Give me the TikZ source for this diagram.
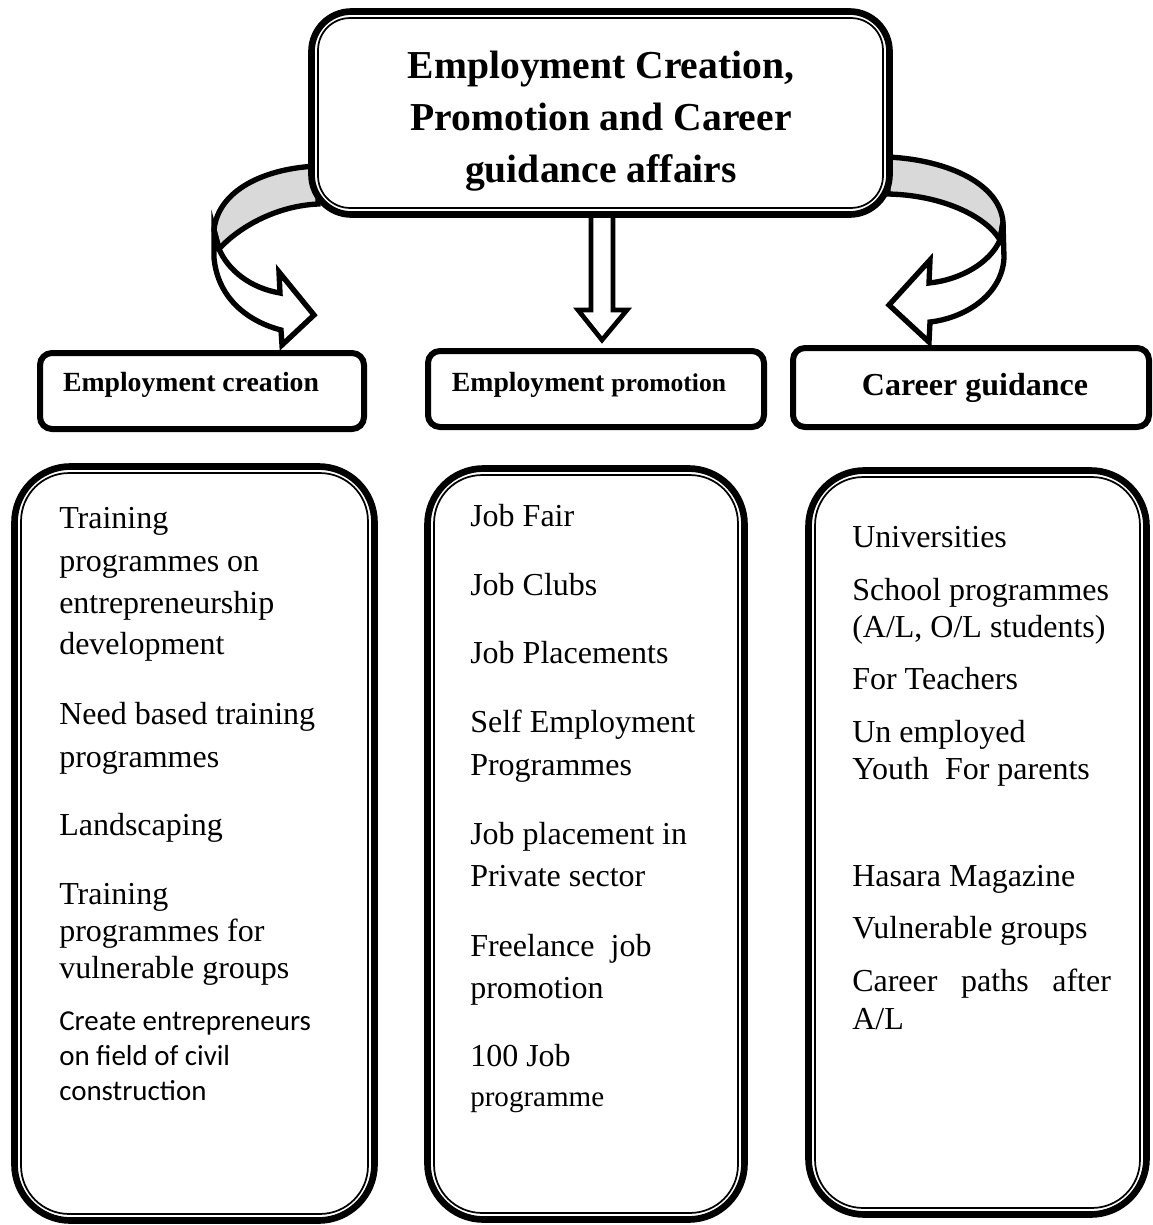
\documentclass[tikz,border=0pt]{standalone}
\usepackage{fontspec}
\setmainfont{Liberation Serif}
\newfontfamily\calibrifont{Carlito}

\begin{document}
\begin{tikzpicture}[x=0.75pt,y=-0.75pt,
	bigbox/.style={draw,line width=5pt,rounded corners=42pt,fill=white,inner sep=0pt},
	innerline/.style={line width=1.3pt,rounded corners=36pt},
	headbox/.style={draw,line width=4.5pt,rounded corners=9pt,fill=white,inner sep=0pt},
	headtext/.style={inner sep=0pt,font=\bfseries},
	blockarrow/.style={draw,line width=4pt,line join=miter,fill=white},
	band/.style={draw,line width=4pt,fill=gray!30},
	item/.style={anchor=west,inner sep=0pt,font=\fontsize{24}{30}\selectfont,text height=16.4pt,text depth=5.3pt},
	smallitem/.style={anchor=west,inner sep=0pt,font=\calibrifont\fontsize{21.7}{26}\selectfont,text height=14.8pt,text depth=4.8pt}]
	\useasboundingbox (0,0) rectangle (1153,1225);
	\draw[band] (318,166) .. controls (265,168) and (218,190) .. (214,230) -- (219,249) .. controls (238,228) and (275,206) .. (318,204) -- cycle;
	\draw[blockarrow] (214,230) -- (214,258) .. controls (218,300) and (250,322) .. (281,330) -- (282,345) -- (314,315) -- (279,272) -- (280,293) .. controls (250,288) and (228,270) .. (219,249) -- cycle;
	\draw[band] (888,157) .. controls (950,160) and (1000,185) .. (1003,222) -- (1000,240) .. controls (985,215) and (940,195) .. (888,194) -- cycle;
	\draw[blockarrow] (1003,222) -- (1004,258) .. controls (1002,295) and (965,318) .. (930,322) -- (929,342) -- (889,305) -- (930,260) -- (929,283) .. controls (960,280) and (990,263) .. (1000,240) -- cycle;
	\draw[blockarrow,line width=3.5pt] (591,212) -- (591,310) -- (578,310) -- (602,340) -- (627,310) -- (613,310) -- (613,212);
	\node[bigbox,rounded corners=30pt,minimum width=433.5pt,minimum height=152.25pt] (main) at (600.5,113) {};
	\draw[innerline,rounded corners=24pt] ([shift={(7.4pt,-7.4pt)}]main.north west) rectangle ([shift={(-7.4pt,7.4pt)}]main.south east);
	\node[align=center,inner sep=0pt,font=\fontsize{29.7}{39}\selectfont\bfseries] (maintitle) at (601,121) {Employment Creation,\\Promotion and Career\\guidance affairs};
	\node[headbox,minimum width=243pt,minimum height=57pt] (creahead) at (202,391) {};
	\node[headtext,font=\fontsize{20.8}{24}\selectfont\bfseries] (creatitle) at (191,385) {Employment creation};
	\node[headbox,minimum width=252pt,minimum height=57pt] (promohead) at (596,389) {};
	\node[headtext,font=\fontsize{20.8}{24}\selectfont\bfseries] (promotitle) at (589,385) {Employment {\fontsize{19.2}{24}\selectfont promotion}};
	\node[headbox,minimum width=267pt,minimum height=59.25pt] (guidehead) at (971,387.5) {};
	\node[headtext,font=\fontsize{24}{28}\selectfont\bfseries] (guidetitle) at (975,388) {Career guidance};
	\node[bigbox,minimum width=270pt,minimum height=565.5pt] (creabody) at (194.5,843.5) {};
	\draw[innerline] ([shift={(7.4pt,-7.4pt)}]creabody.north west) rectangle ([shift={(-7.4pt,7.4pt)}]creabody.south east);
	\node[bigbox,minimum width=237.75pt,minimum height=563.25pt] (promobody) at (586,844) {};
	\draw[innerline] ([shift={(7.4pt,-7.4pt)}]promobody.north west) rectangle ([shift={(-7.4pt,7.4pt)}]promobody.south east);
	\node[bigbox,minimum width=253.5pt,minimum height=558pt] (guidebody) at (977.5,842.5) {};
	\draw[innerline] ([shift={(7.4pt,-7.4pt)}]guidebody.north west) rectangle ([shift={(-7.4pt,7.4pt)}]guidebody.south east);
	\node[item] (crea1) at (59,521) {Training};
	\node[item] (crea2) at (59,564) {programmes on};
	\node[item] (crea3) at (59,606) {entrepreneurship};
	\node[item] (crea4) at (59,647) {development};
	\node[item] (crea5) at (59,717) {Need based training};
	\node[item] (crea6) at (59,760) {programmes};
	\node[item] (crea7) at (59,828) {Landscaping};
	\node[item] (crea8) at (59,897) {Training};
	\node[item] (crea9) at (59,934) {programmes for};
	\node[item] (crea10) at (59,971) {vulnerable groups};
	\node[smallitem] (crea11) at (59,1024) {Create entrepreneurs};
	\node[smallitem] (crea12) at (59,1059) {on field of civil};
	\node[smallitem] (crea13) at (59,1094) {construction};
	\node[item] (promo1) at (470,519) {Job Fair};
	\node[item] (promo2) at (470,588) {Job Clubs};
	\node[item] (promo3) at (470,656) {Job Placements};
	\node[item] (promo4) at (470,725) {Self Employment};
	\node[item] (promo5) at (470,768) {Programmes};
	\node[item] (promo6) at (470,837) {Job placement in};
	\node[item] (promo7) at (470,879) {Private sector};
	\node[item] (promo8) at (470,949) {Freelance\ \ job};
	\node[item] (promo9) at (470,991) {promotion};
	\node[item] (promo10) at (470,1059) {100 Job};
	\node[item,font=\fontsize{21.8}{26}\selectfont] (promo11) at (470,1099) {programme};
	\node[item] (guide1) at (852,540) {Universities};
	\node[item] (guide2) at (852,593) {School programmes};
	\node[item] (guide3) at (852,630) {(A/L, O/L students)};
	\node[item] (guide4) at (852,682) {For Teachers};
	\node[item] (guide5) at (852,735) {Un employed};
	\node[item] (guide6) at (852,772) {Youth\ \ For parents};
	\node[item] (guide7) at (852,879) {Hasara Magazine};
	\node[item] (guide8) at (852,931) {Vulnerable groups};
	\node[item] (guide9) at (852,984) {\makebox[194pt][s]{Career paths after}};
	\node[item] (guide10) at (852,1022) {A/L};
\end{tikzpicture}
\end{document}
